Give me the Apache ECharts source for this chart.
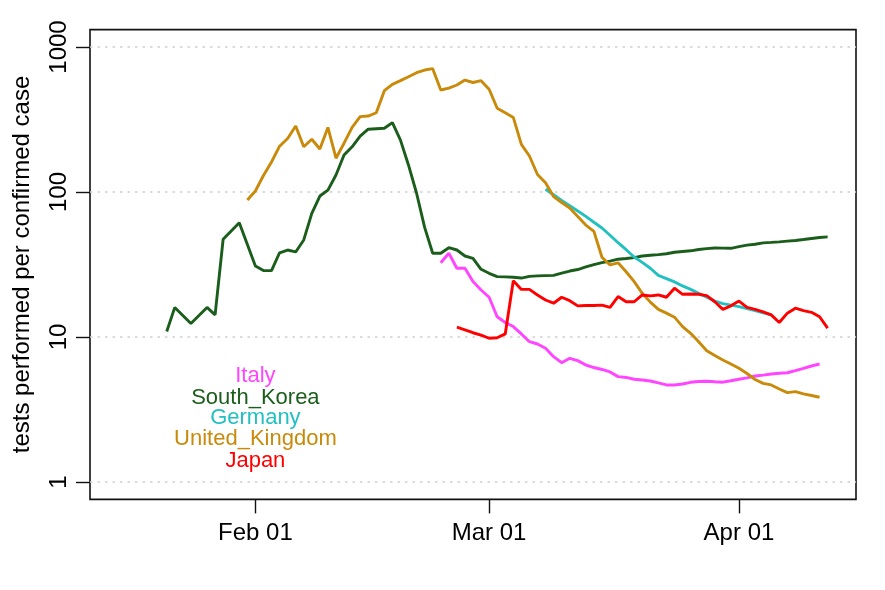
<!DOCTYPE html>
<html><head><meta charset="utf-8">
<script src="https://cdn.jsdelivr.net/npm/echarts@6/dist/echarts.min.js"></script>
<style>html,body{margin:0;padding:0;background:#fff}#c{width:885px;height:590px}</style>
</head><body><div id="c"></div>
<script>
// ---- data (one value per day, from firstDate; null = no report) ----
const firstDate = '2020-01-21';
const xLimStart = '2020-01-15';
const xLimEnd = '2020-04-12';
const tickDates = ['2020-02-01', '2020-03-01', '2020-04-01'];
const tickLabels = ['Feb 01', 'Mar 01', 'Apr 01'];
const yTicks = [1, 10, 100, 1000];
const yLim = [1, 1000];
const seriesNames = ['Italy', 'South_Korea', 'Germany', 'United_Kingdom', 'Japan'];
const seriesColors = ['#ff45ff', '#1b5e1b', '#22c0c0', '#c98a0a', '#ff0000'];

// Jan 21 .. Apr 12
const southKorea = [
  10.9, 16.0, null, 12.4, null, 16.0, 14.2, 47.2, null, 61.4, null,
  30.9, 28.7, 28.7, 38.1, 39.8, 38.6, 46.7, 71.3, 93.8, 103, 131, 180, 205, 243, 271, 273, 275, 301, 228, 153, 98, 57,
  37.8, 37.8, 41.3, 39.8, 36.2, 34.9, 29.3, 27.5, 26.1, 26.0, 25.8, 25.5, 26.2, 26.4, 26.5, 26.6, 27.6, 28.5, 29.2,
  30.4, 31.6, 32.6, 33.4, 34.4, 34.8, 35.3, 36.2, 36.6, 37.0, 37.5, 38.4, 38.9, 39.3, 40.1, 40.7, 41.1, 41.0, 40.9,
  42.0, 43.0, 43.6, 44.6, 44.9, 45.3, 45.8, 46.3, 47.0, 47.8, 48.6, 49.0
];
const unitedKingdom = [
  null, null, null, null, null, null, null, null, null, null, 88.1,
  101.6, 130, 161, 207, 234, 285, 205, 231, 198, 279, 171, 217, 279, 331, 334, 352, 500, 553, 586, 624, 665, 694,
  709, 505, 521, 547, 592, 569, 586, 511, 378, 352, 327, 213, 177, 132, 116, 93, 84.6, 77.6, 67.7,
  59.2, 53.5, 35.5, 31.4, 32.5, 28.2, 24.1, 20.0, 17.4, 15.5, 14.6, 13.7, 11.8, 10.6, 9.28, 8.04, 7.45, 6.94, 6.51,
  6.08, 5.60, 5.09, 4.79, 4.67, 4.38, 4.13, 4.20, 4.05, 3.95, 3.84, null
];
const italy = [
  null, null, null, null, null, null, null, null, null, null, null,
  null, null, null, null, null, null, null, null, null, null, null, null, null, null, null, null, null, null, null, null, null, null,
  null, 32.5, 37.8, 29.8, 29.8, 24.1, 21.1, 18.8, 13.8, 12.6, 11.8, 10.5, 9.28, 8.95, 8.36, 7.32, 6.65, 7.13, 6.87,
  6.41, 6.16, 5.97, 5.74, 5.33, 5.26, 5.11, 5.05, 4.97, 4.82, 4.67, 4.67, 4.74, 4.87, 4.93, 4.95, 4.91, 4.88, 4.99,
  5.11, 5.23, 5.38, 5.46, 5.56, 5.62, 5.67, 5.87, 6.08, 6.31, 6.51, null
];
const germany = [
  null, null, null, null, null, null, null, null, null, null, null,
  null, null, null, null, null, null, null, null, null, null, null, null, null, null, null, null, null, null, null, null, null, null,
  null, null, null, null, null, null, null, null, null, null, null, null, null, null, 104.4, 95.8, 87.5, 80.5, 73.9,
  67.9, 61.9, 56.5, 50.3, 44.7, 40.0, 35.6, 32.7, 29.8, 26.6, 25.3, 24.0, 22.5, 21.3, 20.0, 18.8, 17.7, 17.0, 16.6,
  16.2, 15.7, 15.2, 14.7, 14.2, null, null, null, null, null, null, null
];
const japan = [
  null, null, null, null, null, null, null, null, null, null, null,
  null, null, null, null, null, null, null, null, null, null, null, null, null, null, null, null, null, null, null, null, null, null,
  null, null, null, 11.7, 11.2, 10.7, 10.3, 9.80, 9.89, 10.5, 24.4, 21.3, 21.3, 19.5, 18.0, 17.1, 18.8, 17.8, 16.4,
  16.5, 16.5, 16.6, 16.0, 19.0, 17.5, 17.5, 19.5, 19.2, 19.5, 18.8, 21.7, 19.7, 19.8, 19.7, 19.3, 17.5, 15.5, 16.4,
  17.7, 16.0, 15.5, 14.9, 14.2, 12.6, 14.6, 15.8, 15.2, 14.8, 13.8, 11.5
];
const seriesValues = [italy, southKorea, germany, unitedKingdom, japan];
// label anchor positions (date, value) for the in-plot key
const keyDate = '2020-02-01';
const keyValues = [5.38, 3.80, 2.76, 1.98, 1.40];

// ---- helpers ----
function dayNum(s) {
  const p = s.split('-').map(Number);
  return (Date.UTC(p[0], p[1] - 1, p[2]) - Date.UTC(2020, 0, 1)) / 86400000;
}
const d0 = dayNum(firstDate);
const span = dayNum(xLimEnd) - dayNum(xLimStart);
const xMin = dayNum(xLimStart) - 0.04 * span;
const xMax = dayNum(xLimEnd) + 0.04 * span;
const lspan = Math.log10(yLim[1]) - Math.log10(yLim[0]);
const yMin = Math.pow(10, Math.log10(yLim[0]) - 0.04 * lspan);
const yMax = Math.pow(10, Math.log10(yLim[1]) + 0.04 * lspan);
const tickNums = tickDates.map(dayNum);

const FONT = 'Liberation Sans, Arial, Helvetica, sans-serif';
const chart = echarts.init(document.getElementById('c'), null, {renderer: 'canvas'});

const series = seriesNames.map((n, si) => ({
  name: n,
  type: 'line',
  showSymbol: false,
  connectNulls: true,
  animation: false,
  lineStyle: {color: seriesColors[si], width: 2.9},
  itemStyle: {color: seriesColors[si]},
  data: seriesValues[si].map((v, i) => [d0 + i, v])
}));

chart.setOption({
  backgroundColor: '#fff',
  animation: false,
  grid: {left: 90, right: 29, top: 29.6, bottom: 90.6, show: true, borderColor: '#111', borderWidth: 1.6, containLabel: false},
  xAxis: {
    type: 'value', min: xMin, max: xMax,
    axisLine: {show: false},
    axisTick: {show: true, inside: false, length: 14, lineStyle: {color: '#111', width: 1.4}, customValues: tickNums},
    axisLabel: {
      customValues: tickNums, margin: 22, color: '#000', fontFamily: FONT, fontSize: 24,
      formatter: v => tickLabels[tickNums.indexOf(Math.round(v))] || ''
    },
    splitLine: {show: false}
  },
  yAxis: {
    type: 'log', logBase: 10, min: yMin, max: yMax,
    name: 'tests performed per confirmed case', nameLocation: 'middle', nameRotate: 90, nameGap: 56,
    nameTextStyle: {color: '#000', fontFamily: FONT, fontSize: 24},
    axisLine: {show: false},
    axisTick: {show: true, inside: false, length: 14, lineStyle: {color: '#111', width: 1.4}, customValues: yTicks},
    axisLabel: {customValues: yTicks, rotate: 90, margin: 19, color: '#000', fontFamily: FONT, fontSize: 24,
      formatter: v => String(Math.round(v))},
    splitLine: {show: true, lineStyle: {color: '#cfcfcf', width: 1.5, type: [2.5, 5]}}
  },
  series: series
});

const gfx = seriesNames.map((n, si) => {
  const p = chart.convertToPixel({gridIndex: 0}, [dayNum(keyDate), keyValues[si]]);
  return {
    type: 'text', x: p[0], y: p[1],
    style: {text: n, fill: seriesColors[si], font: '22px ' + FONT, textAlign: 'center', textVerticalAlign: 'middle'}
  };
});
chart.setOption({graphic: gfx});
</script>
</body></html>
